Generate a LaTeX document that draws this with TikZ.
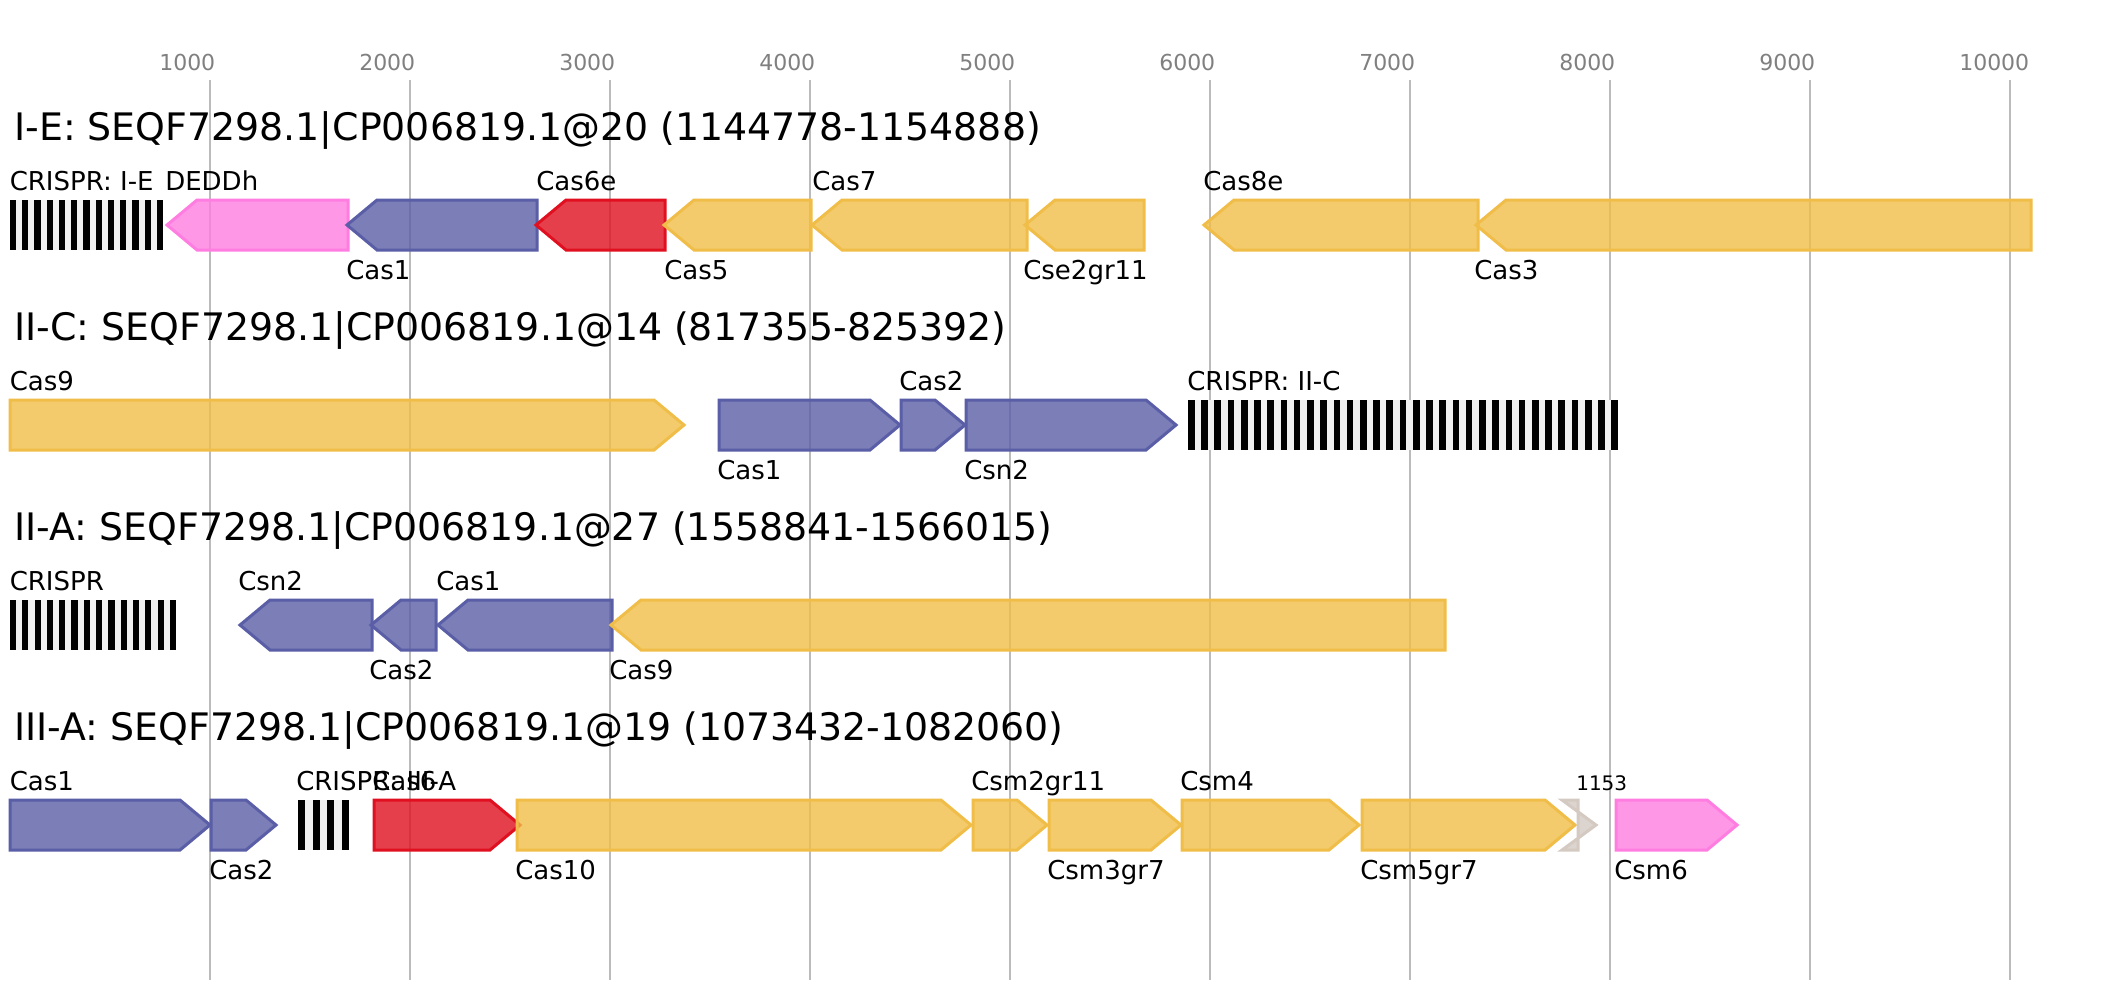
\documentclass[tikz,border=0pt]{standalone}
\usepackage{fontspec}
\setmainfont{DejaVu Sans}
\definecolor{yel}{RGB}{240,190,72}
\definecolor{blu}{RGB}{90,94,166}
\definecolor{rdd}{RGB}{224,16,32}
\definecolor{pnk}{RGB}{255,125,225}
\definecolor{gry}{RGB}{212,202,194}
\definecolor{gridc}{RGB}{187,187,187}
\definecolor{tickc}{RGB}{128,128,128}
\definecolor{crbg}{RGB}{240,240,240}
\newcommand\genefwd[4]{\draw[gene,#4] (#1,#3) -- ({#2-30},#3) -- (#2,{#3+25}) -- ({#2-30},{#3+50}) -- (#1,{#3+50}) -- cycle;}
\newcommand\generev[4]{\draw[gene,#4] (#2,#3) -- ({#1+30},#3) -- (#1,{#3+25}) -- ({#1+30},{#3+50}) -- (#2,{#3+50}) -- cycle;}
\newcommand\crisprarr[4]{%
  \fill[crbg] (#1,#3) rectangle (#2,{#3+50});
  \pgfmathsetmacro\crU{(#2-#1)/(2*#4-1)}%
  \pgfmathtruncatemacro\crN{#4-1}%
  \foreach \i in {0,...,\crN}{\fill[black] ({#1+2*\i*\crU},#3) rectangle ({#1+(2*\i+1)*\crU},{#3+50});}
}
\tikzset{
  gene/.style={line width=2.25pt, line join=miter, fill opacity=0.8},
  gy/.style={draw=yel, fill=yel},
  gb/.style={draw=blu, fill=blu},
  gr/.style={draw=rdd, fill=rdd},
  gp/.style={draw=pnk, fill=pnk},
  gg/.style={draw=gry, fill=gry},
  lbl/.style={inner sep=0pt, anchor=base west, font=\fontsize{19.5pt}{23pt}\selectfont},
  smalllbl/.style={inner sep=0pt, anchor=base west, font=\fontsize{15pt}{18pt}\selectfont},
  ttl/.style={inner sep=0pt, anchor=base west, font=\fontsize{28.4pt}{33pt}\selectfont},
  tick/.style={inner sep=0pt, anchor=base west, text=tickc, font=\fontsize{16.5pt}{19pt}\selectfont},
  gridl/.style={draw=gridc, line width=1.125pt}
}
\begin{document}
\begin{tikzpicture}[x=0.75pt,y=-0.75pt]
\fill[white] (0,0) rectangle (2122,1000);
\useasboundingbox (0,0) rectangle (2122,1000);
% axis
\foreach \v/\lab in {1000/t1,2000/t2,3000/t3,4000/t4,5000/t5,6000/t6,7000/t7,8000/t8,9000/t9,10000/t10}{
  \draw[gridl] ({10+0.2*\v},80) -- ({10+0.2*\v},980);
  \node[tick] (\lab) at ({10+0.2*\v-51},70) {\v};
}
% titles
\node[ttl] (title1) at (14,140) {I-E: SEQF7298.1|CP006819.1@20 (1144778-1154888)};
\node[ttl] (title2) at (14,340) {II-C: SEQF7298.1|CP006819.1@14 (817355-825392)};
\node[ttl] (title3) at (14,540) {II-A: SEQF7298.1|CP006819.1@27 (1558841-1566015)};
\node[ttl] (title4) at (14,740) {III-A: SEQF7298.1|CP006819.1@19 (1073432-1082060)};
% ---------- row 1 ----------
\crisprarr{10}{163}{200}{13}
\generev{167}{348}{200}{gp}
\generev{347}{537}{200}{gb}
\generev{536}{665}{200}{gr}
\generev{664}{811}{200}{gy}
\generev{812}{1027}{200}{gy}
\generev{1025}{1144}{200}{gy}
\generev{1204}{1478}{200}{gy}
\generev{1476}{2031}{200}{gy}
\node[lbl] (a1) at (9.5,190) {CRISPR: I-E};
\node[lbl] (a2) at (165,190) {DEDDh};
\node[lbl] (a3) at (346,279) {Cas1};
\node[lbl] (a4) at (536,190) {Cas6e};
\node[lbl] (a5) at (664,279) {Cas5};
\node[lbl] (a6) at (812,190) {Cas7};
\node[lbl] (a7) at (1023,279) {Cse2gr11};
\node[lbl] (a8) at (1203,190) {Cas8e};
\node[lbl] (a9) at (1474,279) {Cas3};
% ---------- row 2 ----------
\genefwd{10}{684}{400}{gy}
\genefwd{719}{900}{400}{gb}
\genefwd{901}{965}{400}{gb}
\genefwd{966}{1176}{400}{gb}
\crisprarr{1188}{1618}{400}{33}
\node[lbl] (b1) at (9.5,390) {Cas9};
\node[lbl] (b2) at (717,479) {Cas1};
\node[lbl] (b3) at (899,390) {Cas2};
\node[lbl] (b4) at (964,479) {Csn2};
\node[lbl] (b5) at (1187,390) {CRISPR: II-C};
% ---------- row 3 ----------
\crisprarr{10}{176}{600}{14}
\generev{240}{372}{600}{gb}
\generev{371}{436}{600}{gb}
\generev{438}{612}{600}{gb}
\generev{611}{1445}{600}{gy}
\node[lbl] (c1) at (9.5,590) {CRISPR};
\node[lbl] (c2) at (238,590) {Csn2};
\node[lbl] (c3) at (369,679) {Cas2};
\node[lbl] (c4) at (436,590) {Cas1};
\node[lbl] (c5) at (609,679) {Cas9};
% ---------- row 4 ----------
\genefwd{10}{210}{800}{gb}
\genefwd{211}{276}{800}{gb}
\crisprarr{298}{349}{800}{4}
\genefwd{374}{520}{800}{gr}
\genefwd{517}{971}{800}{gy}
\genefwd{973}{1047}{800}{gy}
\genefwd{1049}{1181}{800}{gy}
\genefwd{1182}{1359}{800}{gy}
\genefwd{1362}{1575}{800}{gy}
\draw[gene,gg] (1578,800) -- (1562,800) -- (1596,825) -- (1562,850) -- (1578,850) -- cycle;
\genefwd{1616}{1737}{800}{gp}
\node[lbl] (d1) at (9.5,790) {Cas1};
\node[lbl] (d2) at (209,879) {Cas2};
\node[lbl] (d3) at (296,790) {CRISPR: III-A};
\node[lbl] (d4) at (372,790) {Cas6};
\node[lbl] (d5) at (515,879) {Cas10};
\node[lbl] (d6) at (971,790) {Csm2gr11};
\node[lbl] (d7) at (1047,879) {Csm3gr7};
\node[lbl] (d8) at (1180,790) {Csm4};
\node[lbl] (d9) at (1360,879) {Csm5gr7};
\node[smalllbl] (d10) at (1576,790) {1153};
\node[lbl] (d11) at (1614,879) {Csm6};
\end{tikzpicture}
\end{document}
